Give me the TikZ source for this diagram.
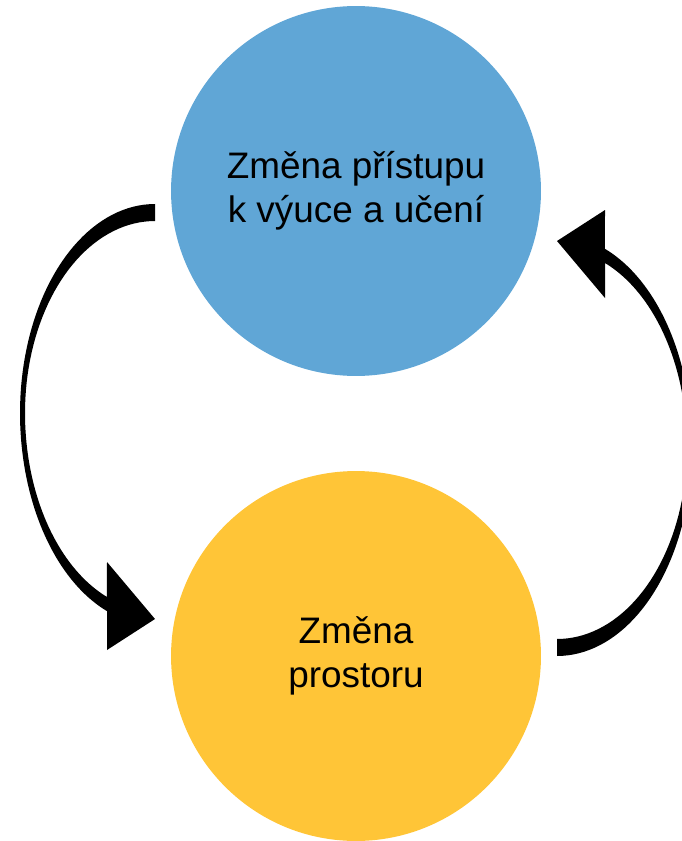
\documentclass[tikz,border=0pt]{standalone}
\usepackage{fontspec}
\setmainfont{Liberation Sans}
\definecolor{changeblue}{RGB}{96,166,214}
\definecolor{changeyellow}{RGB}{255,197,55}
\tikzset{
  bubble/.style={circle, minimum size=7.4cm, inner sep=0pt, align=center,
    font=\fontsize{21}{25.3}\selectfont},
  looparrow/.pic={
    \fill[black] plot[domain=90:180,samples=40,variable=\t] ({155+135*cos(\t)},{413-209*sin(\t)})
      -- plot[domain=180:249.2,samples=40,variable=\t] ({155+135*cos(\t)},{413-212*sin(\t)})
      -- (107,650) -- (155,619) -- (107,562)
      -- plot[domain=248.3:180,samples=40,variable=\t] ({155+130*cos(\t)},{413-198*sin(\t)})
      -- plot[domain=180:90,samples=40,variable=\t] ({155+130*cos(\t)},{413-192*sin(\t)})
      -- cycle;
  }
}
\begin{document}
\begin{tikzpicture}[x=0.02cm,y=-0.02cm]
        \useasboundingbox (0,0) rectangle (682,841);
        \clip (0,0) rectangle (682,841);

        \node[bubble,fill=changeblue] (access) at (356,191) {Změna přístupu\\k výuce a učení};
        \node[bubble,fill=changeyellow] (space) at (356,656) {Změna\\prostoru};

        % the two bent arrows, second one turned round the middle
        \pic at (0,0) {looparrow};
        \pic[rotate=180] at (712,860) {looparrow};
\end{tikzpicture}
\end{document}
